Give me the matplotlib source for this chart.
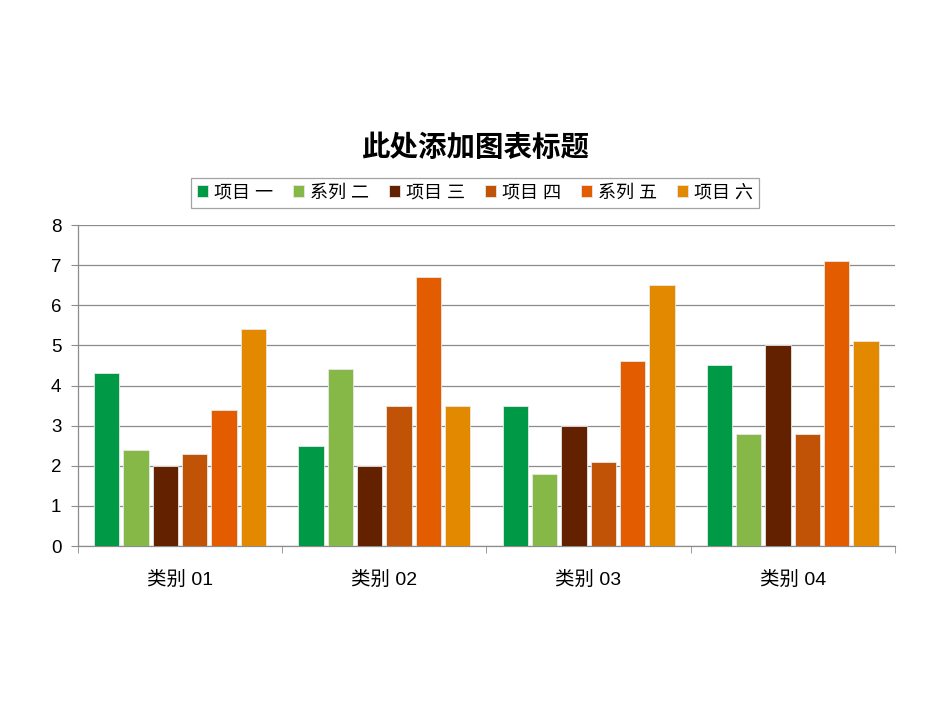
import matplotlib.pyplot as plt
import numpy as np

plt.rcParams['font.family'] = ['Liberation Sans', 'Noto Sans CJK SC', 'DejaVu Sans']

categories = ['类别 01', '类别 02', '类别 03', '类别 04']
series_names = ['项目 一', '系列 二', '项目 三', '项目 四', '系列 五', '项目 六']
series_values = [
    [4.3, 2.5, 3.5, 4.5],
    [2.4, 4.4, 1.8, 2.8],
    [2.0, 2.0, 3.0, 5.0],
    [2.3, 3.5, 2.1, 2.8],
    [3.4, 6.7, 4.6, 7.1],
    [5.4, 3.5, 6.5, 5.1],
]
colors = ['#009A46', '#86B847', '#632100', '#C05306', '#E35C00', '#E38900']

fig = plt.figure(figsize=(9.5, 7.13), dpi=100)
ax = fig.add_axes([0.0821, 0.2342, 0.8599, 0.4502])

x = np.arange(len(categories))
step = 0.1436
width = 0.124
for i, (name, vals) in enumerate(zip(series_names, series_values)):
    ax.bar(x + (i - 2.5) * step, vals, width, color=colors[i], label=name,
           edgecolor='#e8e8e8', linewidth=0.6, zorder=3)

ax.set_xlim(-0.5, 3.5)
ax.set_ylim(0, 8)
ax.set_yticks(range(0, 9))
ax.yaxis.grid(True, color='#8c8c8c', linewidth=0.9, zorder=0)
ax.set_xticks(x)
ax.set_xticklabels(categories, fontsize=14)
ax.tick_params(axis='x', length=0, pad=18)
ax.set_xticks(np.arange(-0.5, 4.0, 1.0), minor=True)
ax.tick_params(axis='x', which='minor', length=5, color='#8c8c8c')
ax.tick_params(axis='y', length=5, color='#8c8c8c', labelsize=13.5, pad=7)
for s in ['top', 'right']:
    ax.spines[s].set_visible(False)
for s in ['left', 'bottom']:
    ax.spines[s].set_color('#8c8c8c')
    ax.spines[s].set_linewidth(0.9)

fig.text(0.5, 0.792, '此处添加图表标题', ha='center', va='center',
         fontsize=20.5, fontweight='bold', family=['Noto Sans CJK SC'])

leg = ax.legend(loc='center', bbox_to_anchor=(0.486, 1.1), ncol=6,
                fontsize=13, frameon=True, fancybox=False, handlelength=0.6,
                handleheight=0.6, handletextpad=0.3, columnspacing=1.15,
                borderpad=0.35)
leg.get_frame().set_edgecolor('#8c8c8c')
leg.get_frame().set_linewidth(0.9)

fig.savefig('out.png', dpi=100)
